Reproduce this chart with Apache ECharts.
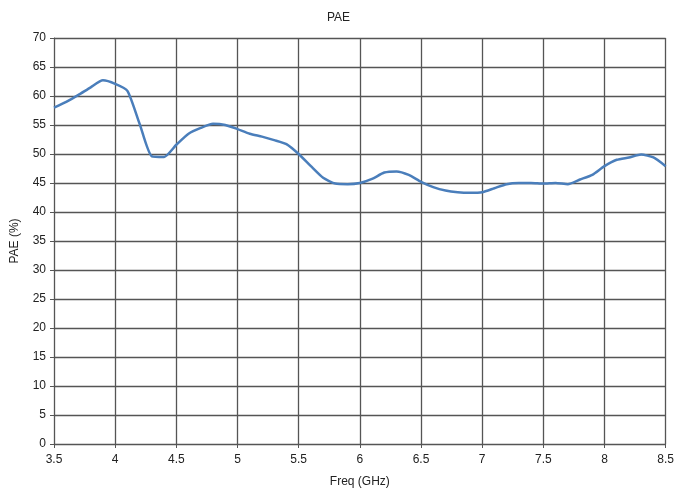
<!DOCTYPE html>
<html><head><meta charset="utf-8">
<script src="https://cdn.jsdelivr.net/npm/echarts@6/dist/echarts.min.js"></script>
<style>html,body{margin:0;padding:0;background:#fff}#c{width:677px;height:493px}</style>
</head><body><div id="c"></div>
<script>
const freq = [3.5,3.6,3.7,3.8,3.9,4.0,4.1,4.2,4.3,4.4,4.5,4.6,4.7,4.8,4.9,5.0,5.1,5.2,5.3,5.4,5.5,5.6,5.7,5.8,5.9,6.0,6.1,6.2,6.3,6.4,6.5,6.6,6.7,6.8,6.9,7.0,7.1,7.2,7.3,7.4,7.5,7.6,7.7,7.8,7.9,8.0,8.1,8.2,8.3,8.4,8.5];
const pae = [58.0,59.0,60.2,61.5,62.7,62.1,60.9,55.2,49.6,49.5,51.6,53.5,54.5,55.2,55.0,54.3,53.5,53.0,52.4,51.7,50.0,47.9,45.9,44.9,44.8,45.0,45.7,46.8,47.0,46.4,45.2,44.3,43.7,43.4,43.3,43.4,44.1,44.8,45.0,45.0,44.9,45.0,44.8,45.6,46.4,47.9,49.0,49.4,49.9,49.4,47.9];
const title = 'PAE';
const xName = 'Freq (GHz)';
const yName = 'PAE (%)';
const chart = echarts.init(document.getElementById('c'));
const font = 'Liberation Sans, Arial, sans-serif';
chart.setOption({
  animation: false,
  title: {text: title, left: 'center', top: 7, textStyle: {fontFamily: font, fontSize: 12, fontWeight: 'normal', color: '#222'}},
  grid: {left: 54, right: 9, top: 38, bottom: 47},
  xAxis: {
    type: 'value', min: 3.5, max: 8.5, interval: 0.5,
    name: xName, nameLocation: 'middle', nameGap: 32,
    nameTextStyle: {fontFamily: font, fontSize: 12, color: '#222'},
    axisLine: {show: true, lineStyle: {color: '#555', width: 1}},
    axisTick: {show: true, length: 4, lineStyle: {color: '#555'}},
    axisLabel: {fontFamily: font, fontSize: 12, color: '#222', margin: 10},
    splitLine: {show: true, lineStyle: {color: '#555', width: 1.3}}
  },
  yAxis: {
    type: 'value', min: 0, max: 70, interval: 5,
    name: yName, nameLocation: 'middle', nameGap: 33, nameRotate: 90,
    nameTextStyle: {fontFamily: font, fontSize: 12, color: '#222'},
    axisLine: {show: true, lineStyle: {color: '#555', width: 1}},
    axisTick: {show: true, length: 4, lineStyle: {color: '#555'}},
    axisLabel: {fontFamily: font, fontSize: 12, color: '#222', margin: 8},
    splitLine: {show: true, lineStyle: {color: '#555', width: 1.3}}
  },
  series: [{
    type: 'line', data: freq.map((f, i) => [f, pae[i]]),
    smooth: 0.2, showSymbol: false,
    lineStyle: {color: '#4a7ebb', width: 2.5}
  }]
});
</script></body></html>
